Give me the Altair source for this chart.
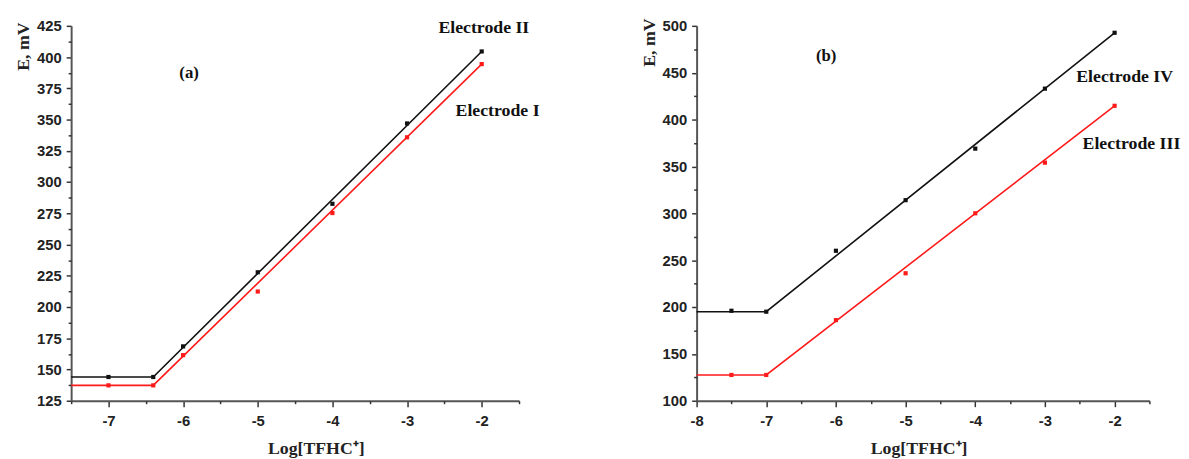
import altair as alt
import pandas as pd

# ---------------- Panel (a) ----------------
a_x_pts = [-7, -6.4, -6, -5, -4, -3, -2]
a_e2_pts = [144, 144, 168.5, 227.8, 282.6, 346.9, 404.5]   # Electrode II (black)
a_e1_pts = [137.3, 137.3, 161.5, 212.4, 275.2, 335.8, 394.4]  # Electrode I (red)
a_fit_x = [-7.5, -6.4, -2]
a_e2_fit = [144, 144, 404.5]
a_e1_fit = [137.3, 137.3, 394.4]

# ---------------- Panel (b) ----------------
b_x_pts = [-7.5, -7, -6, -5, -4, -3, -2]
b_e4_pts = [196, 195, 260, 314, 369, 433, 492.6]   # Electrode IV (black)
b_e3_pts = [127.5, 127.5, 186, 236, 300, 354, 414.7]  # Electrode III (red)
b_fit_x = [-8, -7, -2]
b_e4_fit = [195, 195, 492.6]
b_e3_fit = [127.5, 127.5, 414.7]

# axis ticks (major with labels, minor without)
a_xmajor = [-7, -6, -5, -4, -3, -2]
a_xminor = [-7.5, -6.5, -5.5, -4.5, -3.5, -2.5, -1.5]
a_ymajor = [125, 150, 175, 200, 225, 250, 275, 300, 325, 350, 375, 400, 425]
a_yminor = [137.5, 162.5, 187.5, 212.5, 237.5, 262.5, 287.5, 312.5, 337.5, 362.5, 387.5, 412.5]
b_xmajor = [-8, -7, -6, -5, -4, -3, -2]
b_xminor = [-7.5, -6.5, -5.5, -4.5, -3.5, -2.5, -1.5]
b_ymajor = [100, 150, 200, 250, 300, 350, 400, 450, 500]
b_yminor = [125, 175, 225, 275, 325, 375, 425, 475]

SERIF = "Liberation Serif"
SANS = "Liberation Sans"

common = dict(domainColor="#555", domainWidth=2, tickColor="#333", tickWidth=1.5,
              grid=False, labelFlush=False, labelOverlap=False)


def panel(x_pts, black_pts, red_pts, fit_x, black_fit, red_fit,
          xdom, ydom, xmajor, xminor, ymajor, yminor, tag, tag_pos,
          labels, width, height, xtitle_x, ytitle_y):
    pts = pd.DataFrame({
        "x": x_pts * 2,
        "y": black_pts + red_pts,
        "s": ["black"] * len(x_pts) + ["red"] * len(x_pts),
    })
    fit = pd.DataFrame({
        "x": fit_x * 2,
        "y": black_fit + red_fit,
        "s": ["black"] * len(fit_x) + ["red"] * len(fit_x),
    })
    xaxis = alt.Axis(
        orient="bottom", values=xmajor, labelExpr="'' + datum.value", tickSize=6,
        title="Log[TFHC⁺]", titleFont=SERIF, titleFontSize=18, titleFontWeight="bold",
        titleColor="#222", titleX=xtitle_x, titlePadding=12,
        labelFont=SANS, labelFontSize=15, labelFontWeight="bold", labelColor="#222",
        labelPadding=7, **common,
    )
    yaxis = alt.Axis(
        orient="left", values=ymajor, labelExpr="'' + datum.value", tickSize=5,
        title="E, mV", titleFont=SERIF, titleFontSize=18, titleFontWeight="bold",
        titleColor="#222", titleAnchor="end", titleAngle=270, titleAlign="right",
        titleY=ytitle_y, titlePadding=4,
        labelFont=SANS, labelFontSize=15, labelFontWeight="bold", labelColor="#222",
        labelPadding=5, **common,
    )
    xminax = alt.Axis(orient="bottom", values=xminor, labels=False, title=None, domain=False,
                      tickSize=3, tickColor="#333", tickWidth=1.5, grid=False)
    yminax = alt.Axis(orient="left", values=yminor, labels=False, title=None, domain=False,
                      tickSize=3, tickColor="#333", tickWidth=1.5, grid=False)
    xs = alt.Scale(domain=xdom, nice=False, zero=False)
    ys = alt.Scale(domain=ydom, nice=False, zero=False)
    col = alt.Color("s:N", scale=alt.Scale(domain=["black", "red"], range=["#111111", "#ff1a1a"]), legend=None)

    lines = alt.Chart(fit).mark_line(strokeWidth=1.6).encode(
        x=alt.X("x:Q", scale=xs, axis=xaxis),
        y=alt.Y("y:Q", scale=ys, axis=yaxis),
        color=col,
        detail="s:N",
    )
    points = alt.Chart(pts).mark_point(filled=True, shape="square", size=18, opacity=1).encode(
        x=alt.X("x:Q", scale=xs, axis=xminax),
        y=alt.Y("y:Q", scale=ys, axis=yminax),
        color=col,
    )
    tagdf = pd.DataFrame({"x": [tag_pos[0]], "y": [tag_pos[1]], "t": [tag]})
    tagmark = alt.Chart(tagdf).mark_text(
        font=SERIF, fontSize=17, fontWeight="bold", color="#111", align="center", baseline="middle"
    ).encode(x=alt.X("x:Q", scale=xs, axis=None), y=alt.Y("y:Q", scale=ys, axis=None), text="t:N")
    labdf = pd.DataFrame({"x": [l[0] for l in labels], "y": [l[1] for l in labels], "t": [l[2] for l in labels]})
    labmark = alt.Chart(labdf).mark_text(
        font=SERIF, fontSize=18, fontWeight="bold", color="#111", align="left", baseline="middle"
    ).encode(x=alt.X("x:Q", scale=xs, axis=None), y=alt.Y("y:Q", scale=ys, axis=None), text="t:N")
    return alt.layer(lines, points, tagmark, labmark).resolve_axis(
        x="independent", y="independent"
    ).properties(width=width, height=height)


pa = panel(a_x_pts, a_e2_pts, a_e1_pts, a_fit_x, a_e2_fit, a_e1_fit,
           [-7.5, -1.5], [125, 425], a_xmajor, a_xminor, a_ymajor, a_yminor,
           "(a)", (-5.92, 387),
           [(-2.58, 423.5, "Electrode II"), (-2.35, 357, "Electrode I")],
           454, 380, 248, -4)
pb = panel(b_x_pts, b_e4_pts, b_e3_pts, b_fit_x, b_e4_fit, b_e3_fit,
           [-8, -1.5], [100, 500], b_xmajor, b_xminor, b_ymajor, b_yminor,
           "(b)", (-6.14, 467.7),
           [(-2.55, 445.6, "Electrode IV"), (-2.46, 374, "Electrode III")],
           459, 380, 225, -8)

chart = alt.hconcat(pa, pb, spacing=180, bounds="flush").configure_view(stroke=None).properties(
    padding={"left": 6, "top": 7, "right": 0, "bottom": 0}, background="white"
)

chart.save("out.html", embed_options={"renderer": "svg", "actions": False})
